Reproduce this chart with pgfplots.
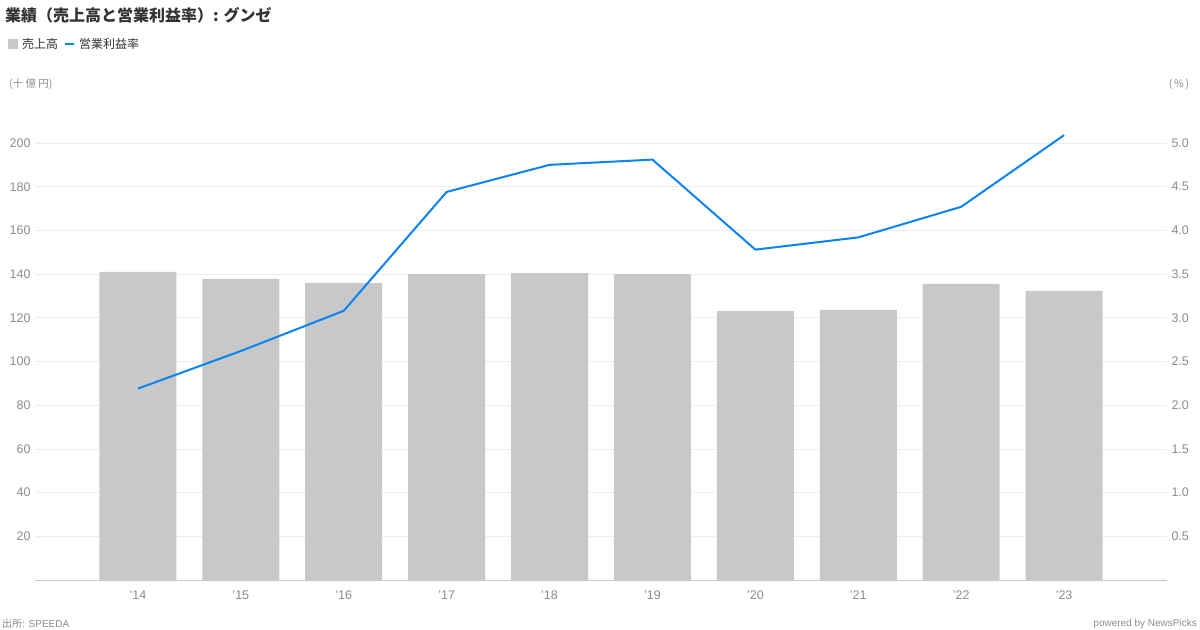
\documentclass[border=0pt]{standalone}
\usepackage{pgfplots}
\pgfplotsset{compat=1.18}
\usepackage{pgfplotstable}
\usepackage{fontspec}
\setmainfont{Liberation Sans}
\newfontfamily\jp{Noto Sans CJK JP}

\definecolor{barg}{HTML}{C8C8C8}
\definecolor{lineb}{HTML}{0A84F2}
\definecolor{tickg}{HTML}{8C8C8C}
\definecolor{gridg}{HTML}{EDEDED}
\definecolor{axg}{HTML}{C8C8C8}
\definecolor{titc}{HTML}{333333}

% sales (billion yen), operating margin (%)
\pgfplotstableread{
x sales margin
0 141.0 2.19
1 137.8 2.62
2 135.9 3.08
3 140.0 4.44
4 140.5 4.75
5 140.0 4.81
6 123.1 3.78
7 123.6 3.92
8 135.5 4.27
9 132.3 5.09
}\data

\begin{document}
\begin{tikzpicture}
\useasboundingbox (0,0) rectangle (1200bp,-630bp);

% title and legend
\node[anchor=west, inner sep=0, text=titc, font=\jp\bfseries\fontsize{16bp}{18bp}\selectfont] at (5bp,-15bp) {業績（売上高と営業利益率）: グンゼ};
\fill[barg] (8bp,-39bp) rectangle (18bp,-49bp);
\node[anchor=west, inner sep=0, text=titc, font=\jp\fontsize{12bp}{14bp}\selectfont] at (22bp,-44bp) {売上高};
\draw[lineb, line width=2bp] (65bp,-44bp) -- (74bp,-44bp);
\node[anchor=west, inner sep=0, text=titc, font=\jp\fontsize{12bp}{14bp}\selectfont] at (79bp,-44bp) {営業利益率};

% units
\node[anchor=west, inner sep=0, text=tickg, font=\jp\fontsize{10.5bp}{12bp}\selectfont] at (9bp,-84bp) {(十 億 円)};
\node[anchor=center, inner sep=0, text=tickg, font=\jp\fontsize{10.5bp}{12bp}\selectfont] at (1179bp,-84bp) {(\,\%\,)};

% footer
\node[anchor=west, inner sep=0, text=tickg, font=\fontsize{10bp}{12bp}\selectfont] at (2bp,-624bp) {{\jp 出所}: SPEEDA};
\node[anchor=east, inner sep=0, text=tickg, font=\fontsize{10bp}{12bp}\selectfont] at (1197bp,-624bp) {powered by NewsPicks};

\begin{axis}[
    at={(35bp,-580bp)}, anchor=south west,
    scale only axis, width=1132bp, height=480.7bp,
    xmin=-1, xmax=10, ymin=0, ymax=220,
    axis x line=bottom, axis y line=left,
    axis line style={-},
    x axis line style={draw=axg, line width=1bp},
    y axis line style={draw=none},
    major tick length=0pt,
    xtick={0,...,9},
    xticklabels={'14,'15,'16,'17,'18,'19,'20,'21,'22,'23},
    ytick={20,40,...,200},
    ymajorgrids, grid style={gridg, line width=0.8bp},
    /pgf/number format/assume math mode=true,
    tick label style={text=tickg, font=\fontsize{12.5bp}{14bp}\selectfont},
    xticklabel style={yshift=-7bp},
    yticklabel style={xshift=-1bp},
]
\addplot[ybar, bar width=77bp, fill=barg, draw=none] table[x=x, y=sales] {\data};
\end{axis}

\begin{axis}[
    at={(35bp,-580bp)}, anchor=south west,
    scale only axis, width=1132bp, height=480.7bp,
    xmin=-1, xmax=10, ymin=0, ymax=5.5,
    axis x line=none, axis y line*=right,
    axis line style={draw=none},
    major tick length=0pt,
    ytick={0.5,1,...,5},
    /pgf/number format/assume math mode=true,
    yticklabel style={/pgf/number format/fixed, /pgf/number format/fixed zerofill, /pgf/number format/precision=1, xshift=1bp},
    tick label style={text=tickg, font=\fontsize{12.5bp}{14bp}\selectfont},
]
\addplot[lineb, line width=2bp, mark=none] table[x=x, y=margin] {\data};
\end{axis}
\end{tikzpicture}
\end{document}
